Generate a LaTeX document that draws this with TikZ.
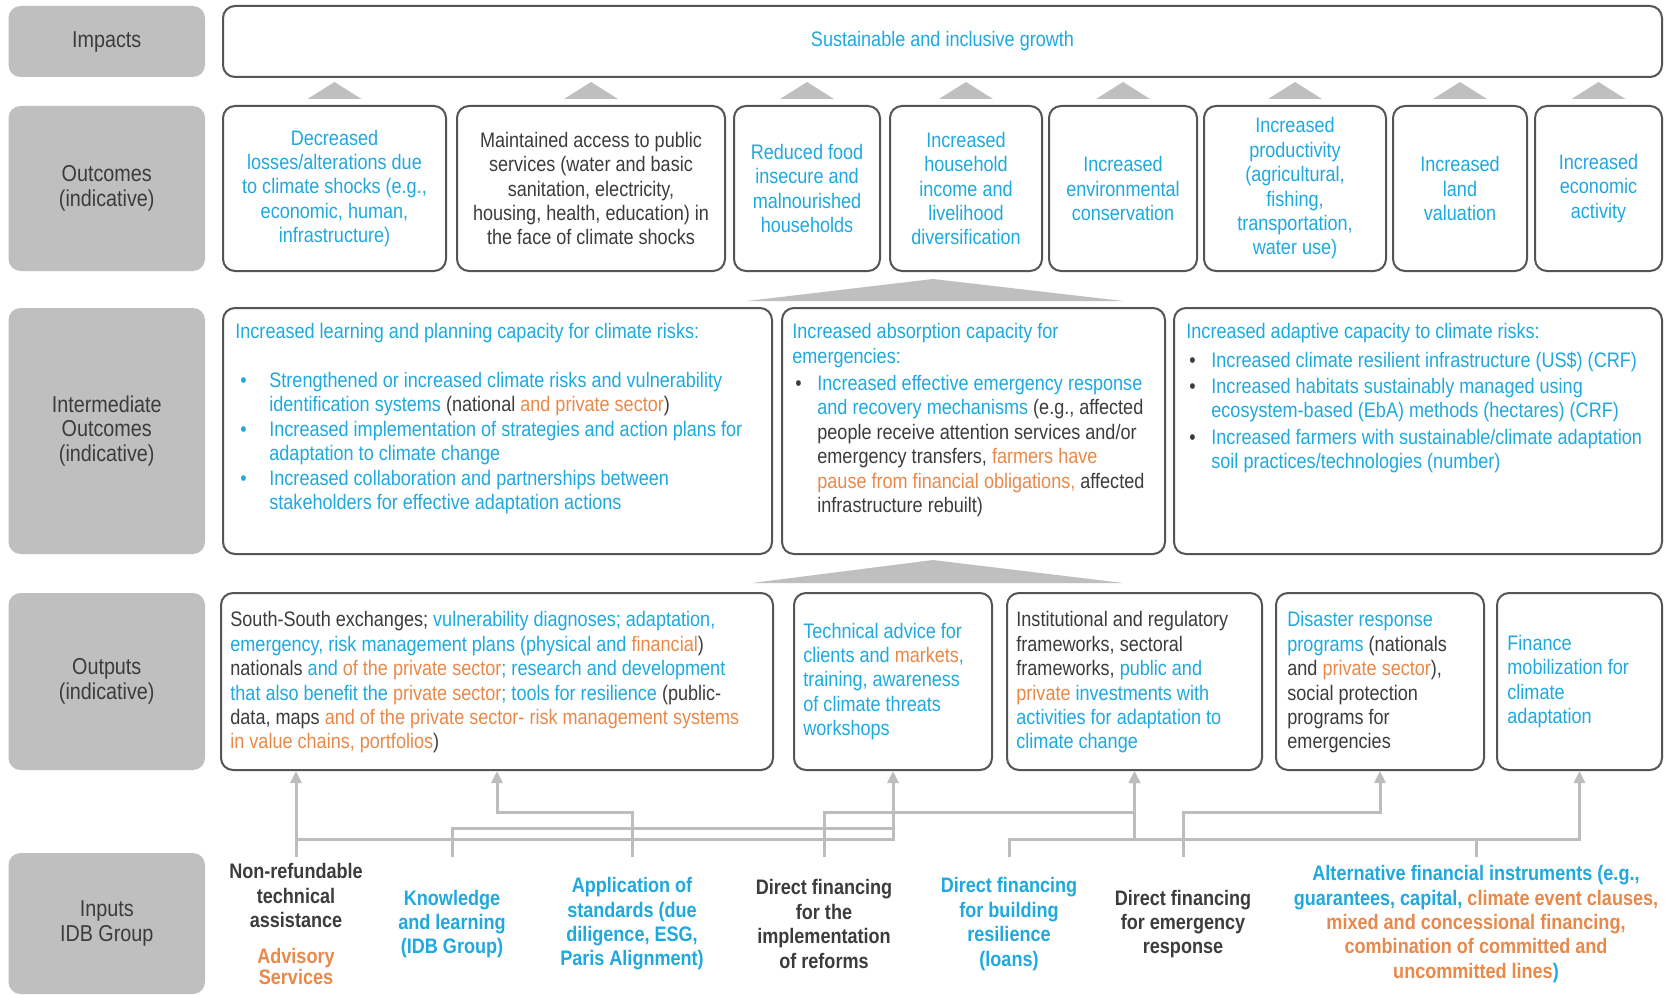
\documentclass[tikz,border=0pt]{standalone}
\usepackage{fontspec}
\setmainfont{Liberation Sans}[FakeStretch=0.86]
\usetikzlibrary{arrows.meta,calc}

\definecolor{idbblue}{HTML}{1EA9DF}
\definecolor{idborange}{HTML}{E8894A}
\definecolor{txtgray}{HTML}{3C3C3C}
\definecolor{lblgray}{HTML}{BFBFBF}
\definecolor{boxline}{HTML}{555555}
\definecolor{linkgray}{HTML}{BDBDBD}

\newcommand\cblue[1]{\textcolor{idbblue}{#1}}
\newcommand\corange[1]{\textcolor{idborange}{#1}}
\newcommand\fsmain{\fontsize{10.5pt}{12.2pt}\selectfont}
\newcommand\fslabel{\fontsize{11.5pt}{12.2pt}\selectfont}
% bullet: left offset, box width, colour
\newcommand\bulitem[3]{\hspace*{#1}\makebox[#2][l]{\textcolor{#3}{\textbullet}}}

\tikzset{
  lbl/.style={fill=lblgray, rounded corners=6pt, minimum width=98.25pt,
    text=txtgray, font=\fslabel, align=center, inner sep=0pt},
  obox/.style={draw=boxline, line width=1pt, fill=white, rounded corners=6pt,
    inner sep=0pt, font=\fsmain, text=txtgray, align=center},
  bluebox/.style={obox, text=idbblue},
  txt/.style={font=\fsmain, text=txtgray, align=left, inner sep=0pt},
  intxt/.style={font=\fsmain\bfseries, text=txtgray, align=center, inner sep=0pt},
  link/.style={draw=linkgray, line width=1.5pt},
  conn/.style={link, -{Triangle[width=5.5pt,length=6pt]}},
  tri/.style={fill=lblgray}
}

\begin{document}
\begin{tikzpicture}[x=0.5pt, y=-0.5pt]
\useasboundingbox (0,0) rectangle (1665,995);
\fill[white] (0,0) rectangle (1665,995);

% ---- row labels ----
\node[lbl, minimum height=35.5pt] (lImp) at (106.75,41.5) {Impacts};
\node[lbl, minimum height=82.5pt] (lOut) at (106.75,188.5) {Outcomes\\(indicative)};
\node[lbl, minimum height=123pt]  (lInt) at (106.75,431) {Intermediate\\Outcomes\\(indicative)};
\node[lbl, minimum height=88.5pt] (lOp)  at (106.75,681.5) {Outputs\\(indicative)};
\node[lbl, minimum height=70.5pt] (lIn)  at (106.75,923.5) {Inputs\\IDB Group};

% ---- impacts ----
\node[bluebox, minimum width=719.5pt, minimum height=35.5pt] (imp) at (942.5,41.5)
  {Sustainable and inclusive growth};

% ---- outcomes ----
\node[bluebox, minimum width=111.5pt, minimum height=82.5pt] (oc1) at (334.5,188.5)
  {Decreased\\losses/alterations due\\to climate shocks (e.g.,\\economic, human,\\infrastructure)};
\node[obox, minimum width=134pt, minimum height=82.5pt] (oc2) at (591,188.5)
  {Maintained access to public\\services (water and basic\\sanitation, electricity,\\housing, health, education) in\\the face of climate shocks};
\node[bluebox, minimum width=73pt, minimum height=82.5pt] (oc3) at (807,188.5)
  {Reduced food\\insecure and\\malnourished\\households};
\node[bluebox, minimum width=76pt, minimum height=82.5pt] (oc4) at (966,188.5)
  {Increased\\household\\income and\\livelihood\\diversification};
\node[bluebox, minimum width=74pt, minimum height=82.5pt] (oc5) at (1123,188.5)
  {Increased\\environmental\\conservation};
\node[bluebox, minimum width=91pt, minimum height=82.5pt] (oc6) at (1295,188.5)
  {Increased\\productivity\\(agricultural,\\fishing,\\transportation,\\water use)};
\node[bluebox, minimum width=67pt, minimum height=82.5pt] (oc7) at (1460,188.5)
  {Increased\\land\\valuation};
\node[bluebox, minimum width=63.5pt, minimum height=82.5pt] (oc8) at (1598.5,188.5)
  {Increased\\economic\\activity};

\foreach \n in {oc1,oc2,oc3,oc4,oc5,oc6,oc7,oc8}
  \fill[tri] ($(\n.north)+(-27,-6)$) -- ($(\n.north)+(0,-23)$) -- ($(\n.north)+(27,-6)$) -- cycle;

% ---- intermediate outcomes ----
\node[obox, minimum width=274.5pt, minimum height=123pt] (im1) at (497.5,431) {};
\node[obox, minimum width=191.5pt, minimum height=123pt] (im2) at (973.5,431) {};
\node[obox, minimum width=244pt,   minimum height=123pt] (im3) at (1418,431) {};

\fill[tri] (747,301) -- (933,279) -- (1123,301) -- cycle;

\node[txt, anchor=north west] (im1t) at ($(im1.north west)+(13,16)$)
  {\cblue{Increased learning and planning capacity for climate risks:}\\[12.2pt]
   \bulitem{2.5pt}{14.5pt}{idbblue}\cblue{Strengthened or increased climate risks and vulnerability}\\
   \hspace*{17pt}\cblue{identification systems} (national \corange{and private sector})\\
   \bulitem{2.5pt}{14.5pt}{idbblue}\cblue{Increased implementation of strategies and action plans for}\\
   \hspace*{17pt}\cblue{adaptation to climate change}\\
   \bulitem{2.5pt}{14.5pt}{idbblue}\cblue{Increased collaboration and partnerships between}\\
   \hspace*{17pt}\cblue{stakeholders for effective adaptation actions}};

\node[txt, anchor=north west] (im2t) at ($(im2.north west)+(11,16)$)
  {\cblue{Increased absorption capacity for}\\
   \cblue{emergencies:}\\[1.5pt]
   \bulitem{1.5pt}{11pt}{txtgray}\cblue{Increased effective emergency response}\\
   \hspace*{12.5pt}\cblue{and recovery mechanisms} (e.g., affected\\
   \hspace*{12.5pt}people receive attention services and/or\\
   \hspace*{12.5pt}emergency transfers, \corange{farmers have}\\
   \hspace*{12.5pt}\corange{pause from financial obligations,} affected\\
   \hspace*{12.5pt}infrastructure rebuilt)};

\node[txt, anchor=north west] (im3t) at ($(im3.north west)+(13,16)$)
  {\cblue{Increased adaptive capacity to climate risks:}\\[2pt]
   \bulitem{1.5pt}{11pt}{txtgray}\cblue{Increased climate resilient infrastructure (US\$) (CRF)}\\[1pt]
   \bulitem{1.5pt}{11pt}{txtgray}\cblue{Increased habitats sustainably managed using}\\
   \hspace*{12.5pt}\cblue{ecosystem-based (EbA) methods (hectares) (CRF)}\\[1pt]
   \bulitem{1.5pt}{11pt}{txtgray}\cblue{Increased farmers with sustainable/climate adaptation}\\
   \hspace*{12.5pt}\cblue{soil practices/technologies (number)}};

% ---- outputs ----
\node[obox, minimum width=276pt,   minimum height=88.5pt] (op1) at (497,681.5) {};
\node[obox, minimum width=99pt,    minimum height=88.5pt] (op2) at (893,681.5) {};
\node[obox, minimum width=127.5pt, minimum height=88.5pt] (op3) at (1134.5,681.5) {};
\node[obox, minimum width=104pt,   minimum height=88.5pt] (op4) at (1380,681.5) {};
\node[obox, minimum width=82.5pt,  minimum height=88.5pt] (op5) at (1579.5,681.5) {};

\fill[tri] (752,583) -- (933,560) -- (1123,583) -- cycle;

\node[txt, anchor=west] (op1t) at ($(op1.west)+(10,1)$)
  {South-South exchanges; \cblue{vulnerability diagnoses; adaptation,}\\
   \cblue{emergency, risk management plans (physical and} \corange{financial})\\
   nationals \cblue{and} \corange{of the private sector}\cblue{; research and development}\\
   \cblue{that also benefit the} \corange{private sector}\cblue{; tools for resilience} (public-\\
   data, maps \corange{and of the private sector- risk management systems}\\
   \corange{in value chains, portfolios})};
\node[txt, anchor=west] (op2t) at ($(op2.west)+(10,0)$)
  {\cblue{Technical advice for}\\
   \cblue{clients and} \corange{markets}\cblue{,}\\
   \cblue{training, awareness}\\
   \cblue{of climate threats}\\
   \cblue{workshops}};
\node[txt, anchor=west] (op3t) at ($(op3.west)+(10,1)$)
  {Institutional and regulatory\\
   frameworks, sectoral\\
   frameworks, \cblue{public and}\\
   \corange{private} \cblue{investments with}\\
   \cblue{activities for adaptation to}\\
   \cblue{climate change}};
\node[txt, anchor=west] (op4t) at ($(op4.west)+(12,1)$)
  {\cblue{Disaster response}\\
   \cblue{programs} (nationals\\
   and \corange{private sector}),\\
   social protection\\
   programs for\\
   emergencies};
\node[txt, anchor=west, text=idbblue] (op5t) at ($(op5.west)+(11,0)$)
  {Finance\\mobilization for\\climate\\adaptation};

% ---- inputs ----
\node[intxt] (in1) at (296,924)
  {Non-refundable\\technical\\assistance\\[5.8pt]
   \corange{Advisory}\\[-1.7pt]\corange{Services}};
\node[intxt, text=idbblue] (in2) at (452,924) {Knowledge\\and learning\\(IDB Group)};
\node[intxt, text=idbblue] (in3) at (632,924) {Application of\\standards (due\\diligence, ESG,\\Paris Alignment)};
\node[intxt] (in4) at (824,924) {Direct financing\\for the\\implementation\\of reforms};
\node[intxt, text=idbblue] (in5) at (1009,924) {Direct financing\\for building\\resilience\\(loans)};
\node[intxt] (in6) at (1183,924) {Direct financing\\for emergency\\response};
\node[intxt] (in7) at (1476,924)
  {\cblue{Alternative financial instruments (e.g.,}\\
   \cblue{guarantees, capital,} \corange{climate event clauses,}\\
   \corange{mixed and concessional financing,}\\
   \corange{combination of committed and}\\
   \corange{uncommitted lines}\cblue{)}};

% ---- connector levels ----
\coordinate (ybase) at (0,857);
\coordinate (yA) at (0,812);
\coordinate (yB) at (0,828);
\coordinate (yC) at (0,839);

% non-refundable technical assistance
\draw[conn] (in1.north |- ybase) -- (in1.north |- op1.south);
\draw[conn] (in1.north |- yC) -| (op2.south);
% knowledge and learning
\draw[link] (in2.north |- ybase) |- (op2.south |- yB);
% application of standards
\draw[conn] (in3.north |- ybase) |- (op1.south |- yA) -- (op1.south);
% direct financing for reforms
\draw[conn] (in4.north |- ybase) |- (op3.south |- yA) -- (op3.south);
% direct financing for resilience
\draw[conn] (in5.north |- ybase) |- (op5.south |- yC) -- (op5.south);
\draw[conn] (op3.south |- yC) -- (op3.south);
% alternative financial instruments
\draw[link] (in7.north |- ybase) -- (in7.north |- yC);
% direct financing for emergency response
\draw[conn] (in6.north |- ybase) |- (op4.south |- yA) -- (op4.south);

\end{tikzpicture}
\end{document}
